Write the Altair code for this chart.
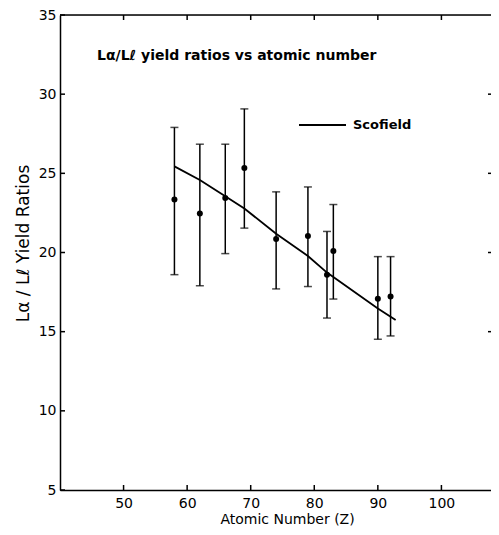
import altair as alt
import pandas as pd

# Data
z = [58, 62, 66, 69, 74, 79, 82, 83, 90, 92]
ratio = [23.35, 22.47, 23.45, 25.33, 20.85, 21.04, 18.6, 20.09, 17.08, 17.22]
err_hi = [27.9, 26.84, 26.84, 29.07, 23.83, 24.14, 21.33, 23.03, 19.74, 19.74]
err_lo = [18.6, 17.9, 19.93, 21.54, 17.7, 17.85, 15.86, 17.06, 14.52, 14.73]

scof_z = [58, 62, 66, 69, 74, 79, 82, 90, 92.8]
scof_r = [25.44, 24.58, 23.55, 22.78, 21.18, 19.78, 18.73, 16.47, 15.73]

x_ticks = [50, 60, 70, 80, 90, 100]
y_ticks = [5, 10, 15, 20, 25, 30, 35]
right_ticks = [15, 20, 25, 30]

W, H = 431, 475
FONT = "DejaVu Sans"

pts = pd.DataFrame({"z": z, "r": ratio, "hi": err_hi, "lo": err_lo})
scof = pd.DataFrame({"z": scof_z, "r": scof_r})
xt = pd.DataFrame({"v": x_ticks})
yt = pd.DataFrame({"v": y_ticks})
rt = pd.DataFrame({"v": right_ticks})
one = pd.DataFrame({"k": [0]})

xs = alt.Scale(domain=[40, 107.8], nice=False, zero=False)
ys = alt.Scale(domain=[5, 35], nice=False, zero=False)

xaxis = alt.Axis(values=x_ticks, ticks=False, grid=False, labelFontSize=14,
                 labelFont=FONT, labelColor="black", labelPadding=6,
                 domainColor="black", domainWidth=1.5,
                 title="Atomic Number (Z)", titleFont=FONT, titleFontSize=14,
                 titleFontWeight="normal", titleColor="black", titlePadding=2,
                 titleX=227)
yaxis = alt.Axis(values=y_ticks, ticks=False, grid=False, labelFontSize=14,
                 labelFont=FONT, labelColor="black", labelPadding=4,
                 domainColor="black", domainWidth=1.5,
                 title="Lα / Lℓ  Yield Ratios", titleFont=FONT, titleFontSize=17,
                 titleFontWeight="normal", titleColor="black", titlePadding=6,
                 titleY=228)

bars = alt.Chart(pts).mark_rule(color="black", strokeWidth=1.5).encode(
    x=alt.X("z:Q", scale=xs, axis=xaxis),
    y=alt.Y("lo:Q", scale=ys, axis=yaxis),
    y2="hi:Q",
)
cap_hi = alt.Chart(pts).mark_tick(color="black", orient="horizontal", size=8, thickness=1.5).encode(
    x=alt.X("z:Q", scale=xs), y=alt.Y("hi:Q", scale=ys))
cap_lo = alt.Chart(pts).mark_tick(color="black", orient="horizontal", size=8, thickness=1.5).encode(
    x=alt.X("z:Q", scale=xs), y=alt.Y("lo:Q", scale=ys))
dots = alt.Chart(pts).mark_circle(color="black", size=36, opacity=1).encode(
    x=alt.X("z:Q", scale=xs), y=alt.Y("r:Q", scale=ys))
line = alt.Chart(scof).mark_line(color="black", strokeWidth=1.8).encode(
    x=alt.X("z:Q", scale=xs), y=alt.Y("r:Q", scale=ys))

# frame: top border and inward ticks
top = alt.Chart(one).mark_rule(color="black", strokeWidth=1.5).encode(
    x=alt.value(0), x2=alt.value(W), y=alt.value(0))
lt = alt.Chart(yt).mark_rule(color="black", strokeWidth=1.5).encode(
    y=alt.Y("v:Q", scale=ys), x=alt.value(0), x2=alt.value(5))
bt = alt.Chart(xt).mark_rule(color="black", strokeWidth=1.5).encode(
    x=alt.X("v:Q", scale=xs), y=alt.value(H), y2=alt.value(H - 5))
tt = alt.Chart(xt).mark_rule(color="black", strokeWidth=1.5).encode(
    x=alt.X("v:Q", scale=xs), y=alt.value(0), y2=alt.value(5))
rtk = alt.Chart(rt).mark_rule(color="black", strokeWidth=1.5).encode(
    y=alt.Y("v:Q", scale=ys), x=alt.value(W - 3), x2=alt.value(W))

# annotations
title_txt = alt.Chart(one).mark_text(align="left", baseline="middle", fontSize=14,
                                     font=FONT, fontWeight="bold", color="black").encode(
    x=alt.value(37), y=alt.value(41), text=alt.value("Lα/Lℓ  yield ratios vs atomic number"))
leg_line = alt.Chart(one).mark_rule(color="black", strokeWidth=1.8).encode(
    x=alt.value(239), x2=alt.value(286), y=alt.value(110))
leg_txt = alt.Chart(one).mark_text(align="left", baseline="middle", fontSize=13,
                                   font=FONT, fontWeight="bold", color="black").encode(
    x=alt.value(293), y=alt.value(110), text=alt.value("Scofield"))

chart = alt.layer(bars, cap_hi, cap_lo, dots, line, top, lt, bt, tt, rtk,
                  title_txt, leg_line, leg_txt).properties(
    width=W, height=H,
    autosize=alt.AutoSizeParams(type="none"),
    padding={"left": 52, "top": 7, "right": 0, "bottom": 40},
).configure_view(stroke=None).configure(background="white")

chart.save("out.html", embed_options={"renderer": "svg", "actions": False})
